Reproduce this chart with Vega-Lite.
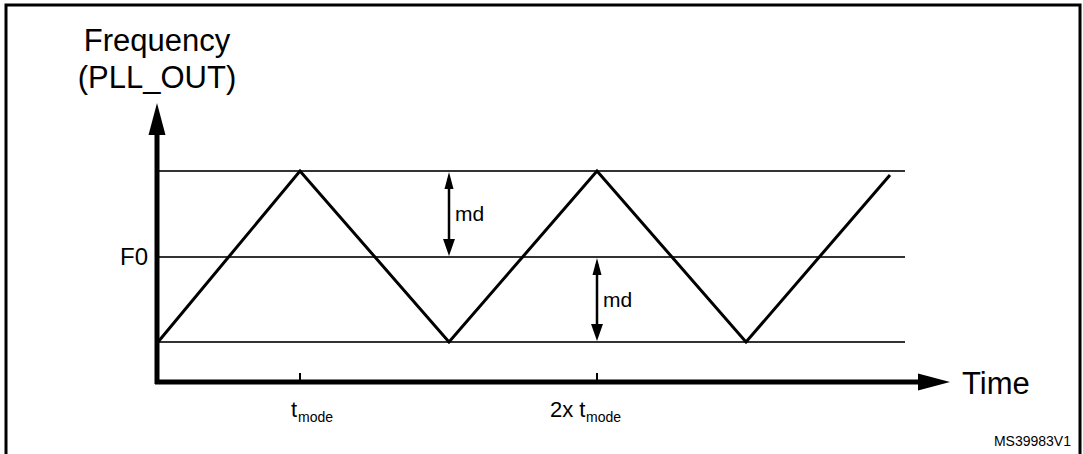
{
  "$schema": "https://vega.github.io/schema/vega-lite/v6.json",
  "width": 1083,
  "height": 454,
  "padding": 0,
  "autosize": {"type": "none"},
  "background": "white",
  "config": {"view": {"stroke": null}},
  "datasets": {
    "border": [{"x": 6, "x2": 1080, "y": 5, "y2": 470}],
    "levels": [
      {"x": 158, "x2": 905, "y": 171, "name": "F0+md"},
      {"x": 158, "x2": 905, "y": 257, "name": "F0"},
      {"x": 158, "x2": 905, "y": 342, "name": "F0-md"}
    ],
    "wave": [
      {"t": 158, "f": 342},
      {"t": 300, "f": 171},
      {"t": 449, "f": 342},
      {"t": 597, "f": 171},
      {"t": 746, "f": 342},
      {"t": 890, "f": 175}
    ],
    "axes": [
      {"x": 157, "x2": 157, "y": 125, "y2": 384},
      {"x": 155, "x2": 925, "y": 382, "y2": 382}
    ],
    "ticks": [
      {"x": 300, "y": 373, "y2": 382},
      {"x": 597, "y": 373, "y2": 382}
    ],
    "bigheads": [
      {"x": 157, "y": 119, "dir": "up"},
      {"x": 934, "y": 382, "dir": "right"}
    ],
    "mdlines": [
      {"x": 449, "y": 178, "y2": 250},
      {"x": 597, "y": 264, "y2": 335}
    ],
    "mdheads": [
      {"x": 449, "y": 180.5, "dir": "up"},
      {"x": 449, "y": 247.5, "dir": "down"},
      {"x": 597, "y": 266.5, "dir": "up"},
      {"x": 597, "y": 332.5, "dir": "down"}
    ],
    "ylabel": [
      {"x": 157, "y": 51, "label": "Frequency"},
      {"x": 157, "y": 88, "label": "(PLL_OUT)"}
    ],
    "xlabel": [{"x": 962, "y": 394, "label": "Time"}],
    "f0": [{"x": 148, "y": 265, "label": "F0"}],
    "tlabels": [
      {"x": 291, "y": 417, "label": "t"},
      {"x": 550, "y": 417, "label": "2x t"}
    ],
    "mdtext": [
      {"x": 455, "y": 221, "label": "md"},
      {"x": 603, "y": 307, "label": "md"}
    ],
    "subtext": [
      {"x": 298, "y": 422, "label": "mode"},
      {"x": 586, "y": 422, "label": "mode"}
    ],
    "code": [{"x": 1071, "y": 446, "label": "MS39983V1"}]
  },
  "layer": [
    {
      "data": {"name": "border"},
      "mark": {"type": "rect", "fill": null, "stroke": "black", "strokeWidth": 3, "clip": true},
      "encoding": {
        "x": {"field": "x", "type": "quantitative", "scale": {"domain": [0, 1083], "range": [0, 1083], "nice": false, "zero": false}, "axis": null},
        "x2": {"field": "x2"},
        "y": {"field": "y", "type": "quantitative", "scale": {"domain": [0, 454], "range": [0, 454], "nice": false, "zero": false}, "axis": null},
        "y2": {"field": "y2"}
      }
    },
    {
      "data": {"name": "levels"},
      "mark": {"type": "rule", "stroke": "#333333", "strokeWidth": 2},
      "encoding": {
        "x": {"field": "x", "type": "quantitative", "axis": null},
        "x2": {"field": "x2"},
        "y": {"field": "y", "type": "quantitative", "axis": null}
      }
    },
    {
      "data": {"name": "wave"},
      "mark": {"type": "line", "stroke": "black", "strokeWidth": 3, "strokeJoin": "miter"},
      "encoding": {
        "x": {"field": "t", "type": "quantitative", "axis": null},
        "y": {"field": "f", "type": "quantitative", "axis": null},
        "order": {"field": "t"}
      }
    },
    {
      "data": {"name": "axes"},
      "mark": {"type": "rule", "stroke": "black", "strokeWidth": 5},
      "encoding": {
        "x": {"field": "x", "type": "quantitative", "axis": null},
        "x2": {"field": "x2"},
        "y": {"field": "y", "type": "quantitative", "axis": null},
        "y2": {"field": "y2"}
      }
    },
    {
      "data": {"name": "ticks"},
      "mark": {"type": "rule", "stroke": "black", "strokeWidth": 2},
      "encoding": {
        "x": {"field": "x", "type": "quantitative", "axis": null},
        "y": {"field": "y", "type": "quantitative", "axis": null},
        "y2": {"field": "y2"}
      }
    },
    {
      "data": {"name": "bigheads"},
      "mark": {"type": "point", "filled": true, "color": "black", "opacity": 1, "size": 1024, "strokeWidth": 0},
      "encoding": {
        "x": {"field": "x", "type": "quantitative", "axis": null},
        "y": {"field": "y", "type": "quantitative", "axis": null},
        "shape": {"field": "dir", "type": "nominal", "legend": null, "scale": {"domain": ["up", "right", "down"], "range": ["M0,-1L0.53,1L-0.53,1Z", "M1,0L-1,0.53L-1,-0.53Z", "M0,1L0.7,-1L-0.7,-1Z"]}}
      }
    },
    {
      "data": {"name": "mdlines"},
      "mark": {"type": "rule", "stroke": "black", "strokeWidth": 2.5},
      "encoding": {
        "x": {"field": "x", "type": "quantitative", "axis": null},
        "y": {"field": "y", "type": "quantitative", "axis": null},
        "y2": {"field": "y2"}
      }
    },
    {
      "data": {"name": "mdheads"},
      "mark": {"type": "point", "filled": true, "color": "black", "opacity": 1, "size": 289, "strokeWidth": 0},
      "encoding": {
        "x": {"field": "x", "type": "quantitative", "axis": null},
        "y": {"field": "y", "type": "quantitative", "axis": null},
        "shape": {"field": "dir", "type": "nominal", "legend": null, "scale": {"domain": ["up", "right", "down"], "range": ["M0,-1L0.75,1L-0.75,1Z", "M1,0L-1,0.53L-1,-0.53Z", "M0,1L0.75,-1L-0.75,-1Z"]}}
      }
    },
    {
      "data": {"name": "ylabel"},
      "mark": {"type": "text", "font": "Liberation Sans", "fontSize": 31, "baseline": "alphabetic", "align": "center", "color": "black"},
      "encoding": {
        "x": {"field": "x", "type": "quantitative", "axis": null},
        "y": {"field": "y", "type": "quantitative", "axis": null},
        "text": {"field": "label"}
      }
    },
    {
      "data": {"name": "xlabel"},
      "mark": {"type": "text", "font": "Liberation Sans", "fontSize": 31, "baseline": "alphabetic", "align": "left", "color": "black"},
      "encoding": {
        "x": {"field": "x", "type": "quantitative", "axis": null},
        "y": {"field": "y", "type": "quantitative", "axis": null},
        "text": {"field": "label"}
      }
    },
    {
      "data": {"name": "f0"},
      "mark": {"type": "text", "font": "Liberation Sans", "fontSize": 24, "baseline": "alphabetic", "align": "right", "color": "black"},
      "encoding": {
        "x": {"field": "x", "type": "quantitative", "axis": null},
        "y": {"field": "y", "type": "quantitative", "axis": null},
        "text": {"field": "label"}
      }
    },
    {
      "data": {"name": "tlabels"},
      "mark": {"type": "text", "font": "Liberation Sans", "fontSize": 22, "baseline": "alphabetic", "align": "left", "color": "black"},
      "encoding": {
        "x": {"field": "x", "type": "quantitative", "axis": null},
        "y": {"field": "y", "type": "quantitative", "axis": null},
        "text": {"field": "label"}
      }
    },
    {
      "data": {"name": "mdtext"},
      "mark": {"type": "text", "font": "Liberation Sans", "fontSize": 21, "baseline": "alphabetic", "align": "left", "color": "black"},
      "encoding": {
        "x": {"field": "x", "type": "quantitative", "axis": null},
        "y": {"field": "y", "type": "quantitative", "axis": null},
        "text": {"field": "label"}
      }
    },
    {
      "data": {"name": "subtext"},
      "mark": {"type": "text", "font": "Liberation Sans", "fontSize": 14, "baseline": "alphabetic", "align": "left", "color": "black"},
      "encoding": {
        "x": {"field": "x", "type": "quantitative", "axis": null},
        "y": {"field": "y", "type": "quantitative", "axis": null},
        "text": {"field": "label"}
      }
    },
    {
      "data": {"name": "code"},
      "mark": {"type": "text", "font": "Liberation Sans", "fontSize": 14, "baseline": "alphabetic", "align": "right", "color": "black"},
      "encoding": {
        "x": {"field": "x", "type": "quantitative", "axis": null},
        "y": {"field": "y", "type": "quantitative", "axis": null},
        "text": {"field": "label"}
      }
    }
  ]
}
